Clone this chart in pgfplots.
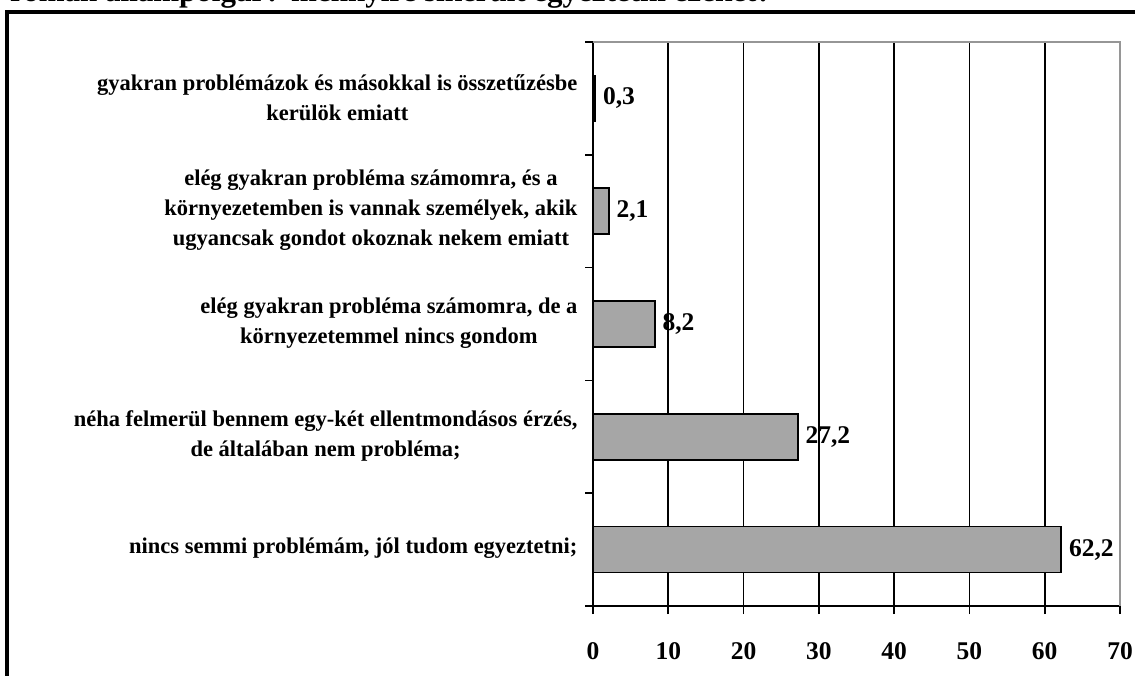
\documentclass[border=0pt]{standalone}
\usepackage{fontspec}
\setmainfont{Liberation Serif}
\usepackage{pgfplots}
\pgfplotsset{compat=1.18}
\definecolor{barg}{HTML}{A6A6A6}
\definecolor{boxg}{HTML}{969696}
\newcommand{\lf}{\fontsize{22.5}{30}\selectfont\bfseries}
\newcommand{\nf}{\fontsize{25.5}{30}\selectfont\bfseries}
\begin{document}
\begin{tikzpicture}[x=1pt,y=1pt]
\useasboundingbox (0,0) rectangle (1135,-675);
\clip (0,0) rectangle (1135,-675);
\node[anchor=base west, inner sep=0pt, font=\fontsize{31}{36}\selectfont\bfseries] at (10,-1.5) {román állampolgár? mennyire sikerült egyeztetni ezeket?};
\draw[line width=4pt] (7,-700) -- (7,-11.5) -- (1150,-11.5);
\begin{axis}[
  at={(593pt,-606pt)}, anchor=south west,
  scale only axis, width=527pt, height=564pt,
  xmin=0, xmax=70, ymin=-0.5, ymax=4.5,
  xbar, bar width=46pt,
  clip=false,
  axis lines*=left,
  axis line style={black, line width=1.6pt},
  tick align=outside, major tick length=8pt,
  every tick/.style={black, line width=1.6pt},
  xtick={0,10,...,70},
  xmajorgrids=true,
  major grid style={black, line width=1.6pt},
  xticklabel style={font=\nf, yshift=-25pt},
  /pgf/number format/assume math mode=true,
  ytick={-0.5,0.5,1.5,2.5,3.5,4.5},
  yticklabels={},
  extra y ticks={0,1,2,3,4},
  extra y tick labels={
    {nincs semmi problémám, jól tudom egyeztetni;},
    {néha felmerül bennem egy-két ellentmondásos érzés,\\ de általában nem probléma;},
    {elég gyakran probléma számomra, de a\\ környezetemmel nincs gondom},
    {elég gyakran probléma számomra, és a\\ környezetemben is vannak személyek, akik\\ ugyancsak gondot okoznak nekem emiatt},
    {gyakran problémázok és másokkal is összetűzésbe\\ kerülök emiatt}},
  extra y tick style={tick style={draw=none}, yticklabel style={font=\lf, align=center, xshift=-4pt, yshift=1pt}},
  point meta=explicit symbolic,
  nodes near coords,
  nodes near coords style={font=\nf, anchor=west, inner sep=0pt, xshift=7pt},
]
\addplot[fill=barg, draw=black, line width=1.6pt] coordinates {
  (62.2,0) [62,2]
  (27.2,1) [27,2]
  (8.2,2) [8,2]
  (2.1,3) [2,1]
  (0.3,4) [0,3]
};
\draw[boxg, line width=1.6pt] (axis cs:0,4.5) -- (axis cs:70,4.5) -- (axis cs:70,-0.5);
\end{axis}
\end{tikzpicture}
\end{document}
